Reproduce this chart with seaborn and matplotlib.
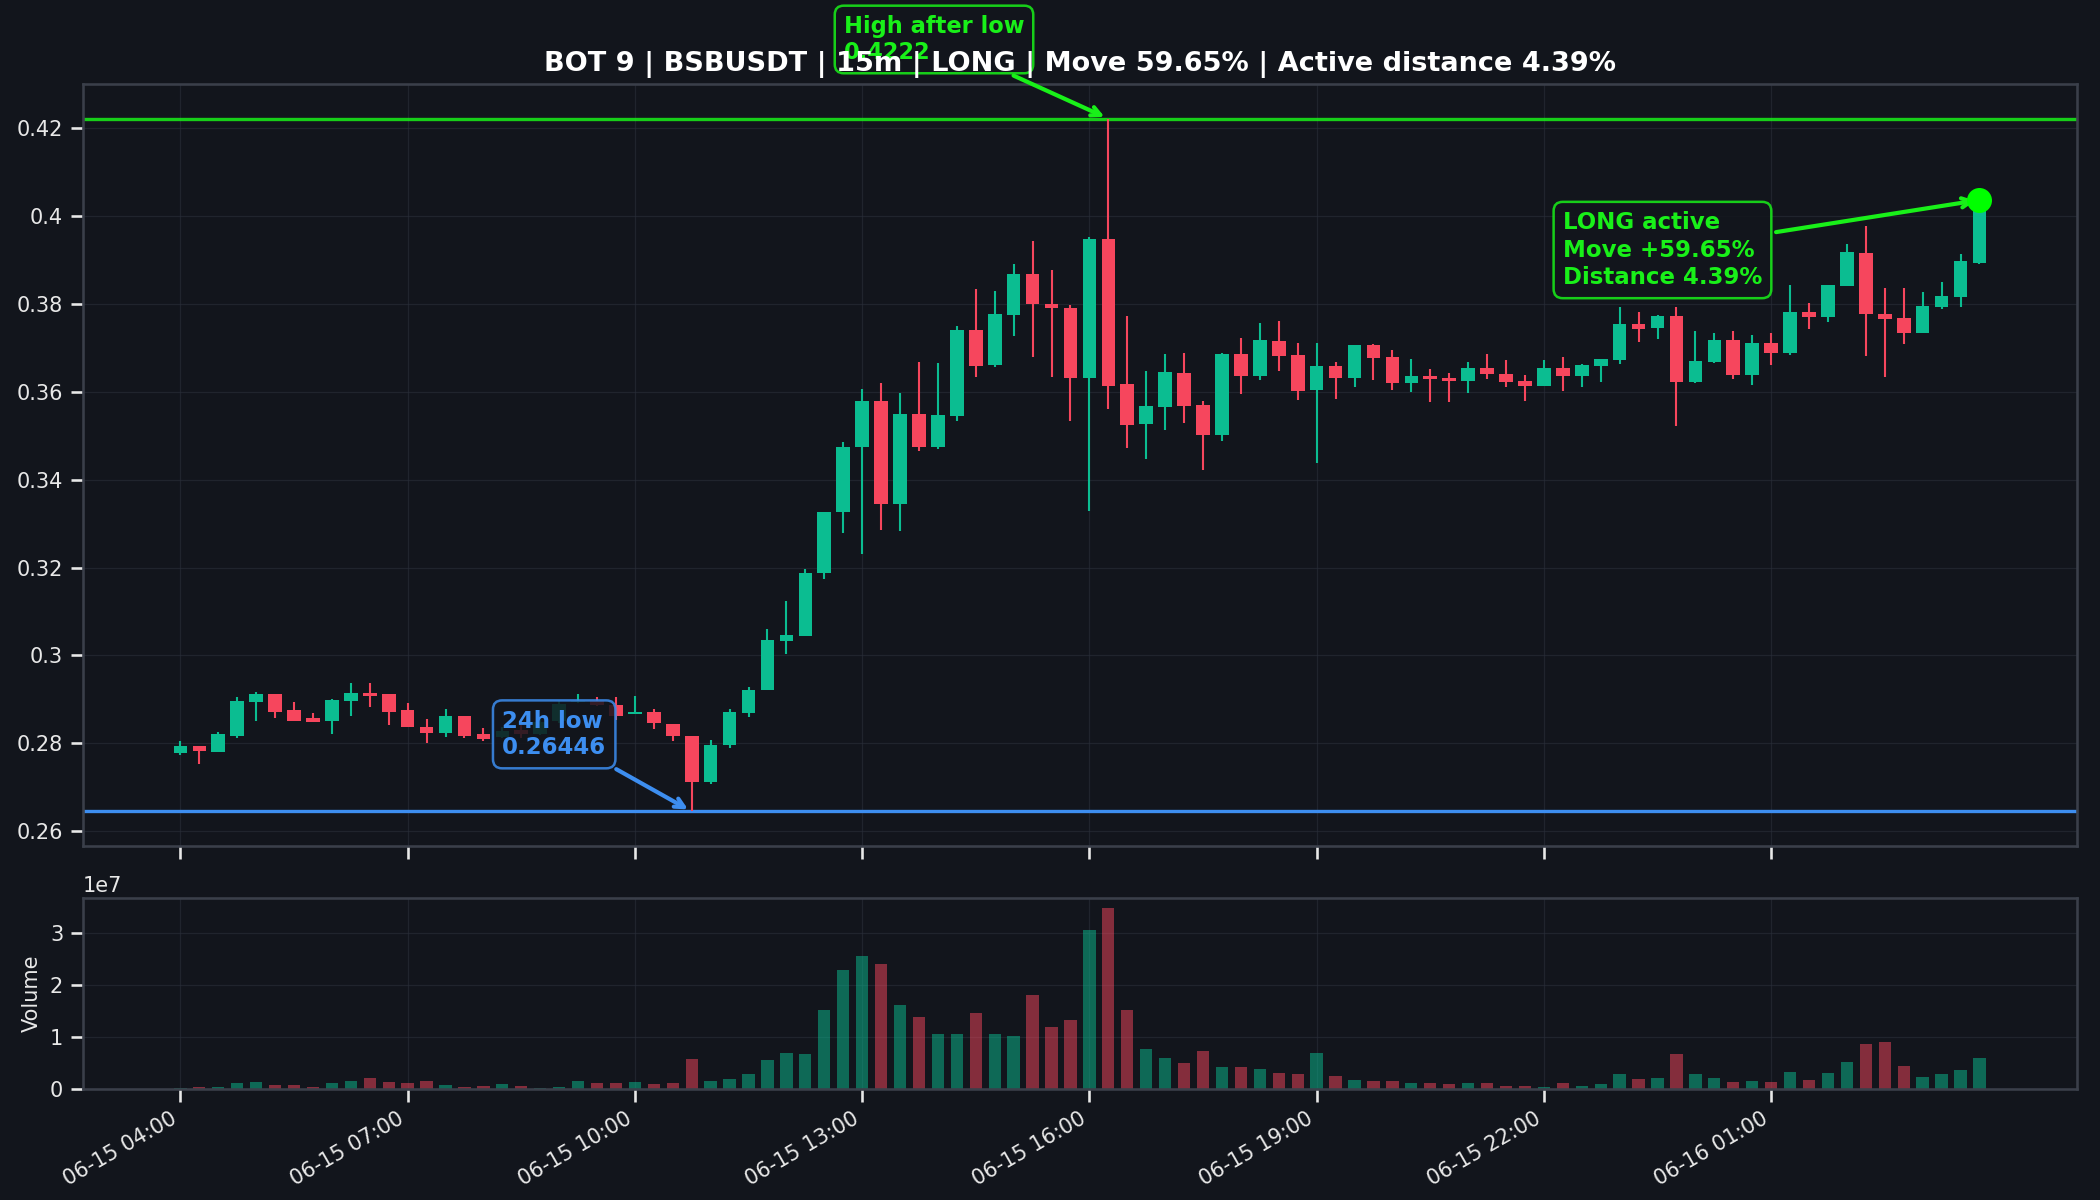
import numpy as np
import pandas as pd
import matplotlib
matplotlib.use("Agg")
import matplotlib.pyplot as plt
import matplotlib.dates as mdates
import matplotlib.ticker as mticker
import seaborn as sns

# 15m candles, 06-15 04:00 -> 06-16 03:45
start = "2024-06-15 04:00"
n_candles = 96

opens = [0.2778, 0.2793, 0.2781, 0.2817, 0.2893, 0.2912, 0.2875, 0.2857, 0.2850, 0.2895,
         0.2915, 0.2912, 0.2875, 0.2838, 0.2823, 0.2861, 0.2820, 0.2815, 0.2830, 0.2822,
         0.2850, 0.2893, 0.2897, 0.2887, 0.2866, 0.2872, 0.2844, 0.2816, 0.2712, 0.2796,
         0.2869, 0.2922, 0.3032, 0.3045, 0.3187, 0.3326, 0.3475, 0.3579, 0.3344, 0.3550,
         0.3474, 0.3545, 0.3741, 0.3661, 0.3774, 0.3868, 0.3799, 0.3791, 0.3631, 0.3947,
         0.3617, 0.3527, 0.3565, 0.3643, 0.3571, 0.3502, 0.3686, 0.3635, 0.3716, 0.3684,
         0.3604, 0.3659, 0.3631, 0.3706, 0.3680, 0.3620, 0.3636, 0.3632, 0.3624, 0.3654,
         0.3640, 0.3625, 0.3614, 0.3655, 0.3636, 0.3659, 0.3672, 0.3754, 0.3745, 0.3773,
         0.3623, 0.3668, 0.3717, 0.3638, 0.3711, 0.3689, 0.3782, 0.3770, 0.3841, 0.3916,
         0.3777, 0.3768, 0.3734, 0.3793, 0.3816, 0.3894]
highs = [0.2805, 0.2793, 0.2825, 0.2906, 0.2917, 0.2912, 0.2893, 0.2869, 0.2900, 0.2937,
         0.2937, 0.2912, 0.2891, 0.2855, 0.2878, 0.2861, 0.2834, 0.2836, 0.2842, 0.2855,
         0.2895, 0.2911, 0.2906, 0.2905, 0.2908, 0.2877, 0.2844, 0.2816, 0.2808, 0.2877,
         0.2927, 0.3059, 0.3123, 0.3196, 0.3326, 0.3486, 0.3607, 0.3620, 0.3598, 0.3668,
         0.3666, 0.3749, 0.3835, 0.3830, 0.3891, 0.3944, 0.3877, 0.3797, 0.3953, 0.4222,
         0.3772, 0.3648, 0.3687, 0.3689, 0.3579, 0.3689, 0.3723, 0.3757, 0.3761, 0.3712,
         0.3712, 0.3668, 0.3706, 0.3709, 0.3696, 0.3675, 0.3651, 0.3642, 0.3668, 0.3685,
         0.3673, 0.3638, 0.3673, 0.3680, 0.3664, 0.3674, 0.3793, 0.3782, 0.3776, 0.3793,
         0.3739, 0.3735, 0.3739, 0.3730, 0.3733, 0.3844, 0.3803, 0.3843, 0.3937, 0.3977,
         0.3836, 0.3836, 0.3827, 0.3850, 0.3914, 0.40367]
lows = [0.2772, 0.2752, 0.2781, 0.2811, 0.2851, 0.2857, 0.2851, 0.2848, 0.2821, 0.2863,
        0.2883, 0.2842, 0.2838, 0.2801, 0.2815, 0.2812, 0.2804, 0.2812, 0.2812, 0.2818,
        0.2845, 0.2892, 0.2884, 0.2852, 0.2866, 0.2832, 0.2804, 0.26446, 0.2706, 0.2788,
        0.2860, 0.2922, 0.3003, 0.3045, 0.3173, 0.3279, 0.3231, 0.3285, 0.3283, 0.3466,
        0.3469, 0.3533, 0.3634, 0.3656, 0.3726, 0.3679, 0.3634, 0.3534, 0.3328, 0.3562,
        0.3472, 0.3447, 0.3513, 0.3528, 0.3421, 0.3488, 0.3595, 0.3626, 0.3647, 0.3581,
        0.3438, 0.3583, 0.3611, 0.3626, 0.3604, 0.3600, 0.3576, 0.3576, 0.3598, 0.3629,
        0.3611, 0.3579, 0.3614, 0.3602, 0.3611, 0.3623, 0.3664, 0.3714, 0.3720, 0.3523,
        0.3620, 0.3666, 0.3629, 0.3615, 0.3661, 0.3683, 0.3742, 0.3758, 0.3841, 0.3681,
        0.3633, 0.3708, 0.3733, 0.3789, 0.3792, 0.3890]
closes = [0.2793, 0.2782, 0.2820, 0.2895, 0.2912, 0.2872, 0.2851, 0.2848, 0.2898, 0.2915,
          0.2908, 0.2872, 0.2838, 0.2823, 0.2861, 0.2816, 0.2810, 0.2828, 0.2820, 0.2848,
          0.2890, 0.2896, 0.2888, 0.2862, 0.2869, 0.2846, 0.2816, 0.2712, 0.2797, 0.2872,
          0.2922, 0.3034, 0.3047, 0.3188, 0.3326, 0.3475, 0.3579, 0.3344, 0.3550, 0.3474,
          0.3547, 0.3741, 0.3659, 0.3777, 0.3868, 0.3799, 0.3790, 0.3631, 0.3947, 0.3613,
          0.3525, 0.3568, 0.3645, 0.3568, 0.3502, 0.3687, 0.3635, 0.3718, 0.3681, 0.3602,
          0.3659, 0.3631, 0.3706, 0.3676, 0.3620, 0.3636, 0.3629, 0.3625, 0.3654, 0.3640,
          0.3622, 0.3614, 0.3655, 0.3636, 0.3661, 0.3674, 0.3755, 0.3744, 0.3773, 0.3623,
          0.3670, 0.3717, 0.3638, 0.3711, 0.3689, 0.3782, 0.3770, 0.3843, 0.3918, 0.3777,
          0.3765, 0.3734, 0.3795, 0.3818, 0.3898, 0.40367]
# volume in millions
volume_m = [0.25, 0.45, 0.4, 1.2, 1.4, 0.85, 0.85, 0.4, 1.2, 1.6,
            2.2, 1.4, 1.25, 1.6, 0.85, 0.45, 0.65, 1.05, 0.65, 0.25,
            0.45, 1.6, 1.25, 1.25, 1.4, 1.05, 1.25, 5.8, 1.6, 2.0,
            2.8, 5.5, 6.9, 6.7, 15.2, 23.0, 25.7, 24.2, 16.2, 13.9,
            10.6, 10.6, 14.6, 10.6, 10.2, 18.1, 11.9, 13.3, 30.6, 35.0,
            15.2, 7.8, 5.9, 5.0, 7.3, 4.3, 4.3, 3.8, 3.0, 2.8,
            6.9, 2.5, 1.7, 1.5, 1.6, 1.25, 1.25, 1.05, 1.15, 1.1,
            0.65, 0.65, 0.45, 1.25, 0.65, 1.05, 2.8, 2.0, 2.2, 6.7,
            2.8, 2.2, 1.4, 1.6, 1.4, 3.2, 1.8, 3.0, 5.3, 8.6,
            9.0, 4.5, 2.4, 2.8, 3.6, 5.9]

low_24h = 0.26446
high_after_low = 0.4222
low_idx = 27
high_idx = 49
title = "BOT 9 | BSBUSDT | 15m | LONG | Move 59.65% | Active distance 4.39%"

BG = "#12151c"
UP = "#0bbd91"
DOWN = "#f6465d"
LIME = "#19f019"
BLUE = "#3d8ef0"

sns.set_theme(style="ticks", rc={
    "figure.facecolor": BG, "axes.facecolor": BG, "savefig.facecolor": BG,
    "axes.edgecolor": "#3a3f4a", "axes.labelcolor": "#e8e8e8",
    "text.color": "#e8e8e8", "xtick.color": "#e8e8e8", "ytick.color": "#e8e8e8",
    "grid.color": "#2a2f3a", "grid.linewidth": 0.6,
    "xtick.labelsize": 10, "ytick.labelsize": 10, "axes.labelsize": 10,
})
plt.rcParams["font.family"] = ["DejaVu Sans"]

times = pd.date_range(start, periods=n_candles, freq="15min")
x = mdates.date2num(times)
o, h, l, c = map(np.array, (opens, highs, lows, closes))
vol = np.array(volume_m) * 1e6
up = c >= o
colors = np.where(up, UP, DOWN)
step = 15 / (24 * 60)

fig, (ax, axv) = plt.subplots(2, 1, figsize=(14, 8), dpi=150, sharex=True,
                              gridspec_kw={"height_ratios": [4, 1]})
fig.subplots_adjust(left=0.0395, right=0.989, top=0.93, bottom=0.0925, hspace=0.11)

# candles
ax.vlines(x, l, h, color=colors, lw=1.0, zorder=2)
body = np.maximum(np.abs(c - o), 0.0004)
ax.bar(x, body, bottom=np.minimum(o, c), width=step * 0.72, color=colors,
       edgecolor="none", linewidth=0, zorder=3)

ax.axhline(high_after_low, color=LIME, lw=1.6, alpha=0.85, zorder=1)
ax.axhline(low_24h, color=BLUE, lw=1.6, zorder=1)
ax.plot(x[-1], c[-1], "o", color="#00ff00", markersize=11, zorder=5)

box = dict(boxstyle="round,pad=0.4", fc=BG, alpha=0.85, lw=1.2)
ax.annotate(f"High after low\n{high_after_low}", xy=(x[high_idx], high_after_low),
            xytext=(-127, 38), textcoords="offset points", ha="left", va="center",
            color=LIME, fontsize=10.8, fontweight="bold", annotation_clip=False,
            bbox={**box, "ec": LIME},
            arrowprops=dict(arrowstyle="->", color=LIME, lw=2))
ax.annotate(f"24h low\n{low_24h}", xy=(x[low_idx], low_24h),
            xytext=(-91, 37), textcoords="offset points", ha="left", va="center",
            color=BLUE, fontsize=11, fontweight="bold",
            bbox={**box, "ec": BLUE},
            arrowprops=dict(arrowstyle="->", color=BLUE, lw=2))
ax.annotate("LONG active\nMove +59.65%\nDistance 4.39%", xy=(x[-1], c[-1]),
            xytext=(-200, -24), textcoords="offset points", ha="left", va="center",
            color=LIME, fontsize=11, fontweight="bold", linespacing=1.25,
            bbox={**box, "ec": LIME},
            arrowprops=dict(arrowstyle="->", color=LIME, lw=2))

ax.set_title(title, fontsize=13, fontweight="bold", color="white")
ax.grid(True, alpha=0.6)
ax.yaxis.set_major_formatter(mticker.FormatStrFormatter("%g"))
ax.tick_params(labelbottom=False)

# volume
axv.bar(x, vol, width=step * 0.65, color=colors, alpha=0.5, edgecolor="none", linewidth=0)
axv.set_ylabel("Volume")
axv.grid(True, alpha=0.6)
axv.xaxis.set_major_locator(mticker.FixedLocator(x[::12]))
axv.xaxis.set_major_formatter(mdates.DateFormatter("%m-%d %H:%M"))
plt.setp(axv.get_xticklabels(), rotation=30, ha="right")

fig.savefig("out.png", dpi=150)
